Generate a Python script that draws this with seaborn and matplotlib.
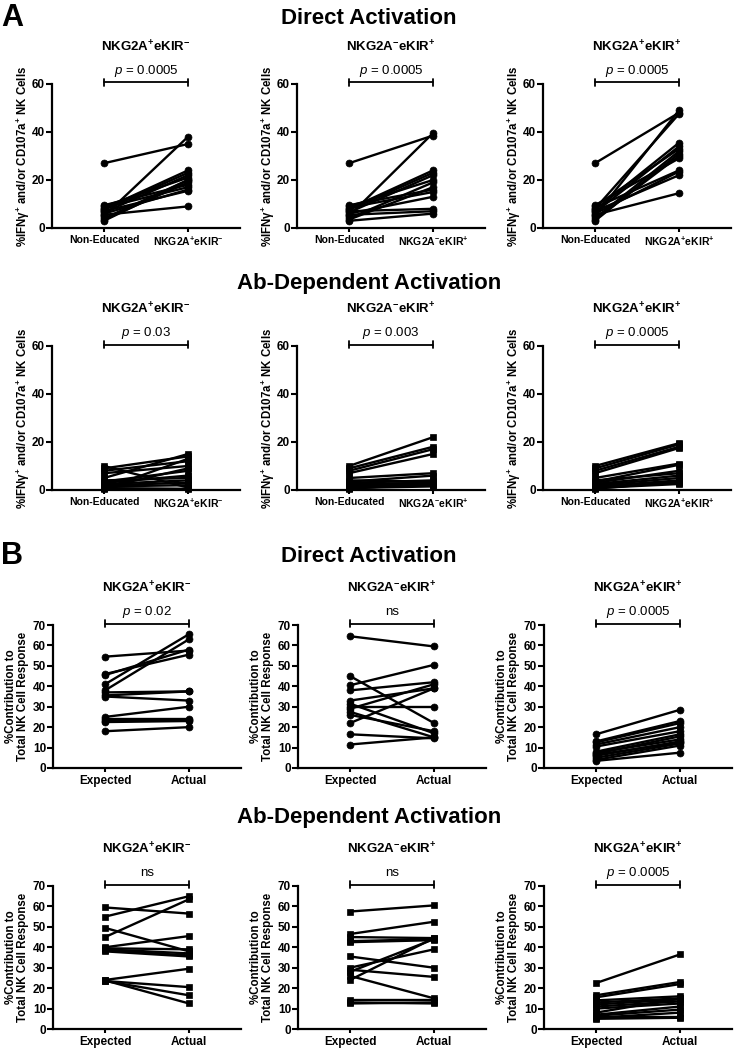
import numpy as np
import pandas as pd
import seaborn as sns
import matplotlib.pyplot as plt

sns.set_style('ticks')
plt.rcParams['font.family'] = ['Liberation Sans', 'DejaVu Sans']
plt.rcParams['mathtext.fontset'] = 'custom'
plt.rcParams['mathtext.rm'] = 'Liberation Sans'
plt.rcParams['mathtext.it'] = 'Liberation Sans:italic'
plt.rcParams['mathtext.bf'] = 'Liberation Sans:bold'
for key in ['text.color', 'axes.labelcolor', 'xtick.color', 'ytick.color', 'axes.edgecolor']:
    plt.rcParams[key] = 'black'

# ---- data ----
# A, direct activation: non-educated vs educated subsets
a_dir_noned = [27, 5, 8, 7.5, 6.5, 9, 4, 3.5, 9.5, 8.5, 6, 7, 5.5, 3]
a_dir_g2a = [35, 38, 24, 23, 22, 21, 20, 19, 18, 17, 16, 15.5, 9, 20]
a_dir_kir = [38.5, 39.5, 24, 23, 22, 20, 19, 17, 16, 15, 13, 8, 7, 6]
a_dir_dp = [48, 49, 47.5, 35.5, 34, 33, 32, 30, 29, 24, 23.5, 22, 14.5, 31]

# A, Ab-dependent activation
a_ab_noned = [10, 9, 8, 7, 5, 3.5, 3, 2.5, 2, 1.5, 1, 0.8, 0.5, 4]
a_ab_g2a = [1, 14, 12, 10, 15, 8, 6, 4, 3, 2, 9, 0.5, 13, 5]
a_ab_kir = [22, 18, 17, 15, 7, 6, 4, 3, 3, 2.5, 2, 1.5, 2.8, 3.5]
a_ab_dp = [19.5, 19, 18, 17.5, 11, 10.5, 8, 6, 5, 4, 3, 2.5, 3.5, 7]

# B, direct activation: expected vs actual contribution
b_dir_g2a_exp = [54.5, 46, 45.5, 41, 38, 37, 35.5, 35, 25, 24, 23, 22.5, 18]
b_dir_g2a_act = [57.5, 55.5, 58, 65.5, 63, 37.5, 37.5, 33, 30, 24, 23.5, 23, 20]
b_dir_kir_exp = [64.5, 45, 40.5, 38, 33, 31.5, 30, 29, 27.5, 26, 22, 16.5, 11.5]
b_dir_kir_act = [59.5, 22, 50.5, 42, 39, 17, 30, 41, 15, 18, 39, 14.5, 15]
b_dir_dp_exp = [16.5, 13, 12.5, 11.5, 10.5, 8, 7, 7.5, 6, 5, 4, 3.5, 6.5]
b_dir_dp_act = [28.5, 23, 22, 20, 18, 16.5, 15.5, 14, 13, 12, 11, 7.5, 12.5]

# B, Ab-dependent activation
b_ab_g2a_exp = [59.5, 55, 49.5, 45, 40, 39.5, 39, 38.5, 38, 24, 23.5, 23.5, 23.8]
b_ab_g2a_act = [56.5, 65, 38, 63.5, 45.5, 39, 37, 36, 35.5, 29.5, 20.5, 16.5, 12.5]
b_ab_kir_exp = [57.5, 46.5, 45, 43, 42.5, 35.5, 30, 29, 28, 26, 24, 14, 13, 12.5]
b_ab_kir_act = [60.5, 52.5, 44.5, 44, 43.5, 30, 39, 25.5, 44, 15, 44.5, 14, 12.5, 13]
b_ab_dp_exp = [22.5, 16.5, 15.5, 14, 13, 12, 11, 10, 8, 7, 6.5, 5.5, 6, 5]
b_ab_dp_act = [36.5, 23, 22, 16, 15, 14.5, 13.5, 12.5, 15, 11, 9.5, 8, 6, 5.5]

subsets = [r'NKG2A$^{\bf{+}}$eKIR$^{\bf{-}}$',
           r'NKG2A$^{\bf{-}}$eKIR$^{\bf{+}}$',
           r'NKG2A$^{\bf{+}}$eKIR$^{\bf{+}}$']
pvals_a_dir = [r'$p$ = 0.0005', r'$p$ = 0.0005', r'$p$ = 0.0005']
pvals_a_ab = [r'$p$ = 0.03', r'$p$ = 0.003', r'$p$ = 0.0005']
pvals_b_dir = [r'$p$ = 0.02', 'ns', r'$p$ = 0.0005']
pvals_b_ab = ['ns', 'ns', r'$p$ = 0.0005']

ylab_a = r'%IFNγ$^{\bf{+}}$ and/or CD107a$^{\bf{+}}$ NK Cells'
ylab_b = '%Contribution to\nTotal NK Cell Response'

W, H = 735, 1052
fig = plt.figure(figsize=(W / 100, H / 100), dpi=100)


def fx(px):
    return px / W


def fy(py):
    return 1 - py / H


def panel(col_x, top, bottom, left, right, xlabels, ymax, ystep, marker, ms,
          title, ptext, ylab, ylab_x, xfs):
    ax = fig.add_axes([fx(col_x), fy(bottom), fx(188), (bottom - top) / H])
    n = len(left)
    df = pd.DataFrame({'donor': list(range(n)) * 2,
                       'x': [0] * n + [1] * n,
                       'y': list(left) + list(right)})
    sns.lineplot(data=df, x='x', y='y', units='donor', estimator=None,
                 color='black', lw=1.7, marker=marker, ms=ms, mec='black',
                 mfc='black', mew=0.5, clip_on=False, legend=False, ax=ax)
    ax.set_xlim(-0.62, 1.62)
    ax.set_ylim(0, ymax)
    ax.set_yticks(np.arange(0, ymax + 1, ystep))
    ax.set_xticks([0, 1])
    ax.set_xticklabels(xlabels)
    ax.set_xlabel('')
    ax.set_ylabel(ylab, fontsize=8.3, fontweight='bold', linespacing=1.1)
    ax.yaxis.set_label_coords(ylab_x, 0.5)
    sns.despine(ax=ax)
    for s in ['left', 'bottom']:
        ax.spines[s].set_linewidth(1.6)
    ax.tick_params(axis='y', length=4, width=1.5, labelsize=8.5, pad=1)
    ax.tick_params(axis='x', length=3, width=1.5, labelsize=xfs, pad=2)
    for lab in ax.get_xticklabels() + ax.get_yticklabels():
        lab.set_fontweight('bold')
    # significance bracket
    tr = ax.get_xaxis_transform()
    cap = 3.2 / (bottom - top)
    yb = 1 + 1.5 / (bottom - top)
    ax.plot([0, 1], [yb, yb], transform=tr, color='black', lw=1.3, clip_on=False)
    for xx in [0, 1]:
        ax.plot([xx, xx], [yb - cap, yb + cap], transform=tr, color='black',
                lw=1.3, clip_on=False)
    xc = col_x + 94
    fig.text(fx(xc), fy(top - 37), title, ha='center', va='center',
             fontsize=9.5, fontweight='bold')
    fig.text(fx(xc), fy(top - 13), ptext, ha='center', va='center',
             fontsize=9.5)
    return ax


cols = [52, 297, 543]

# row titles and panel letters
fig.text(fx(12), fy(18), 'A', fontsize=22, fontweight='bold', ha='center', va='center')
fig.text(fx(12), fy(556), 'B', fontsize=22, fontweight='bold', ha='center', va='center')
fig.text(0.502, fy(18), 'Direct Activation', fontsize=16, fontweight='bold', ha='center', va='center')
fig.text(0.502, fy(284), 'Ab-Dependent Activation', fontsize=16, fontweight='bold', ha='center', va='center')
fig.text(0.502, fy(556), 'Direct Activation', fontsize=16, fontweight='bold', ha='center', va='center')
fig.text(0.502, fy(818), 'Ab-Dependent Activation', fontsize=16, fontweight='bold', ha='center', va='center')

a_dir = [a_dir_g2a, a_dir_kir, a_dir_dp]
a_ab = [a_ab_g2a, a_ab_kir, a_ab_dp]
b_dir = [(b_dir_g2a_exp, b_dir_g2a_act), (b_dir_kir_exp, b_dir_kir_act), (b_dir_dp_exp, b_dir_dp_act)]
b_ab = [(b_ab_g2a_exp, b_ab_g2a_act), (b_ab_kir_exp, b_ab_kir_act), (b_ab_dp_exp, b_ab_dp_act)]

for i in range(3):
    panel(cols[i], 84, 228, a_dir_noned, a_dir[i], ['Non-Educated', subsets[i]],
          60, 20, 'o', 5, subsets[i], pvals_a_dir[i], ylab_a, -0.105, 7.5)
    panel(cols[i], 346, 490, a_ab_noned, a_ab[i], ['Non-Educated', subsets[i]],
          60, 20, 's', 4.5, subsets[i], pvals_a_ab[i], ylab_a, -0.105, 7.5)
    panel(cols[i] + 1, 625, 768, b_dir[i][0], b_dir[i][1], ['Expected', 'Actual'],
          70, 10, 'o', 5, subsets[i], pvals_b_dir[i], ylab_b, -0.125, 8.5)
    panel(cols[i] + 1, 886, 1029, b_ab[i][0], b_ab[i][1], ['Expected', 'Actual'],
          70, 10, 's', 4.5, subsets[i], pvals_b_ab[i], ylab_b, -0.125, 8.5)

fig.savefig('out.png', dpi=100)
